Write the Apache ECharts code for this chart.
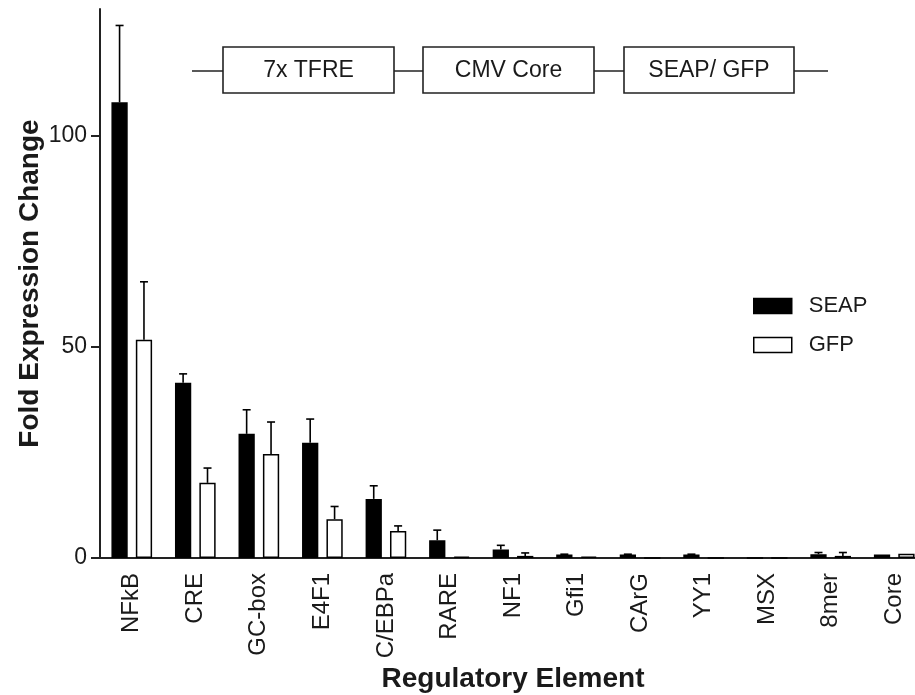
<!DOCTYPE html>
<html><head><meta charset="utf-8">
<script src="https://cdn.jsdelivr.net/npm/echarts@6/dist/echarts.min.js"></script>
<style>html,body{margin:0;padding:0;background:#fff}#c{width:915px;height:695px}</style>
</head><body><div id="c"></div>
<script>
const categories = ['NFkB','CRE','GC-box','E4F1','C/EBPa','RARE','NF1','Gfi1','CArG','YY1','MSX','8mer','Core'];
const seapValues = [107.9, 41.5, 29.4, 27.3, 14.0, 4.2, 2.0, 0.8, 0.8, 0.8, 0, 0.9, 0.8];
const seapErrors = [18.2, 2.1, 5.7, 5.6, 3.1, 2.4, 1.0, 0.1, 0.1, 0.1, 0, 0.4, 0];
const gfpValues  = [51.7, 17.8, 24.6, 9.2, 6.4, 0.3, 0.5, 0.3, 0, 0, 0, 0.5, 1.0];
const gfpErrors  = [13.7, 3.5, 7.6, 3.0, 1.2, 0, 0.7, 0, 0, 0, 0, 0.8, 0];
const yTicks = [0, 50, 100];
const schematicLabels = ['7x TFRE', 'CMV Core', 'SEAP/ GFP'];

const FONT = "'Liberation Sans', Arial, Helvetica, sans-serif";
const INK = '#1a1a1a';
const CAT_GAP = 0.36, BAR_GAP = 0.5;

function errRender(sign) {
  return function (params, api) {
    const idx = api.value(0), val = api.value(1), err = api.value(2);
    if (!(err > 0)) return null;
    const band = api.size([1, 0])[0];
    const barW = band * (1 - CAT_GAP) / (2 + BAR_GAP);
    const off = sign * (barW + barW * BAR_GAP) / 2;
    const p0 = api.coord([idx, val]);
    const p1 = api.coord([idx, val + err]);
    const x = p0[0] + off, cap = 4;
    const st = { stroke: '#000', lineWidth: 1.6 };
    return { type: 'group', children: [
      { type: 'line', shape: { x1: x, y1: p0[1], x2: x, y2: p1[1] }, style: st },
      { type: 'line', shape: { x1: x - cap, y1: p1[1], x2: x + cap, y2: p1[1] }, style: st }
    ]};
  };
}

const chart = echarts.init(document.getElementById('c'), null, { renderer: 'canvas' });

const boxes = [[223, 394], [423, 594], [624, 794]];
const graphics = [{ type: 'line', shape: { x1: 192, y1: 71, x2: 828, y2: 71 }, style: { stroke: '#222', lineWidth: 1.6 }, z: 10 }];
boxes.forEach((b, i) => {
  graphics.push({ type: 'rect', shape: { x: b[0], y: 47, width: b[1] - b[0], height: 46 },
    style: { fill: '#fff', stroke: '#222', lineWidth: 1.6 }, z: 11 });
  graphics.push({ type: 'text', x: (b[0] + b[1]) / 2, y: 71,
    style: { text: schematicLabels[i], fontSize: 23, fontFamily: FONT, fill: INK, align: 'center', verticalAlign: 'middle' }, z: 12 });
});

chart.setOption({
  backgroundColor: '#fff',
  animation: false,
  textStyle: { fontFamily: FONT, color: INK },
  grid: { left: 100, right: -11, top: 9, bottom: 137, containLabel: false, outerBoundsMode: 'none' },
  legend: {
    orient: 'vertical', left: 748, top: 290, itemWidth: 38, itemHeight: 15, itemGap: 17,
    icon: 'rect', selectedMode: false,
    textStyle: { fontSize: 22, fontFamily: FONT, color: INK, padding: [0, 0, 0, 12] },
    data: [
      { name: 'SEAP', itemStyle: { color: '#000', borderColor: '#000', borderWidth: 1.5 } },
      { name: 'GFP', itemStyle: { color: '#fff', borderColor: '#000', borderWidth: 1.5 } }
    ]
  },
  xAxis: {
    type: 'category', data: categories, boundaryGap: true,
    name: 'Regulatory Element', nameLocation: 'middle', nameGap: 107, nameMoveOverlap: false,
    nameTextStyle: { fontSize: 28, fontWeight: 'bold', fontFamily: FONT, color: INK },
    axisLine: { lineStyle: { color: '#222', width: 2 } },
    axisTick: { alignWithLabel: true, length: 10, lineStyle: { color: '#222', width: 2 } },
    axisLabel: { rotate: 90, fontSize: 24, margin: 15, color: INK, fontFamily: FONT, interval: 0 },
    splitLine: { show: false }
  },
  yAxis: {
    type: 'value', min: 0, max: 130, interval: 50,
    name: 'Fold Expression Change', nameLocation: 'middle', nameGap: 56, nameMoveOverlap: false,
    nameTextStyle: { fontSize: 28, fontWeight: 'bold', fontFamily: FONT, color: INK },
    axisLine: { show: true, lineStyle: { color: '#222', width: 2 } },
    axisTick: { show: true, length: 9, customValues: yTicks, lineStyle: { color: '#222', width: 2 } },
    axisLabel: { fontSize: 23, margin: 13, color: INK, fontFamily: FONT, customValues: yTicks },
    splitLine: { show: false }
  },
  series: [
    { name: 'SEAP', type: 'bar', data: seapValues, barGap: (BAR_GAP * 100) + '%', barCategoryGap: (CAT_GAP * 100) + '%',
      itemStyle: { color: '#000', borderColor: '#000', borderWidth: 1.5 }, z: 2 },
    { name: 'GFP', type: 'bar', data: gfpValues, barGap: (BAR_GAP * 100) + '%', barCategoryGap: (CAT_GAP * 100) + '%',
      itemStyle: { color: '#fff', borderColor: '#000', borderWidth: 1.5 }, z: 2 },
    { name: 'SEAP err', type: 'custom', renderItem: errRender(-1), z: 5,
      data: seapValues.map((v, i) => [i, v, seapErrors[i]]), encode: { x: 0, y: 1 } },
    { name: 'GFP err', type: 'custom', renderItem: errRender(1), z: 5,
      data: gfpValues.map((v, i) => [i, v, gfpErrors[i]]), encode: { x: 0, y: 1 } }
  ],
  graphic: graphics
});
</script>
</body></html>
